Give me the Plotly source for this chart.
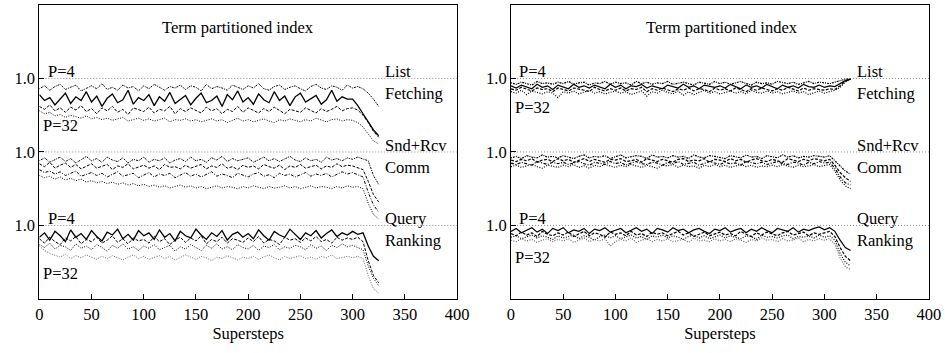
import plotly.graph_objects as go

# Supersteps sampled every 5 steps (0..325)
supersteps = list(range(0, 330, 5))

# ---- Left panel: values in percent of 1.0, series P=4, P=8, P=16, P=32 ----
left_fetch = [
    [86,90,84,89,92,85,88,91,83,87, 90,86,93,85,88,84,91,87,89,83, 90,86,92,88,84,89,87,91,85,90,
     88,83,92,86,89,87,84,91,88,85, 90,87,93,86,84,89,91,85,88,90, 86,83,89,92,87,85,90,88,84,91,
     87,89,86,80,72,62],
    [78,70,74,64,72,80,66,75,70,82, 68,76,62,73,79,67,71,84,65,74, 70,78,63,75,69,81,66,72,77,64,
     73,80,67,70,76,62,78,71,83,68, 74,65,79,71,67,82,70,76,63,75, 80,68,73,77,65,71,84,69,75,72,
     72,63,52,40,30,22],
    [62,58,64,56,60,54,61,57,63,55, 59,52,60,56,62,54,58,51,60,57, 55,61,53,58,56,62,52,59,55,60,
     57,53,61,56,59,52,58,55,62,54, 60,56,53,59,55,61,57,52,58,56, 54,60,57,53,59,55,58,62,56,59,
     60,57,50,40,28,20],
    [56,52,54,49,51,47,50,48,46,49, 45,47,44,46,43,45,47,42,44,46, 43,45,42,44,46,41,44,43,45,42,
     44,41,43,45,42,44,40,43,46,42, 44,41,43,45,42,40,44,42,45,43, 41,44,42,46,43,41,44,45,42,44,
     43,40,34,24,15,11],
]
left_comm = [
    [88,92,86,90,93,87,91,85,89,94, 88,91,86,93,89,87,92,85,90,88, 93,86,90,88,92,85,89,91,87,93,
     88,90,86,92,89,94,87,91,88,90, 92,86,89,93,88,91,87,90,94,89, 87,92,88,90,86,93,89,91,88,92,
     90,93,91,88,68,56],
    [84,80,86,78,82,85,79,83,77,81, 84,78,80,83,76,81,79,84,77,80, 82,78,81,76,83,79,80,77,82,78,
     80,83,77,81,79,84,78,80,76,82, 79,81,77,83,80,78,82,76,81,79, 83,78,80,82,77,81,79,84,80,82,
     81,79,76,60,42,32],
    [76,72,74,70,73,68,71,74,67,70, 72,68,71,66,70,73,67,69,71,65, 69,72,66,70,68,71,65,69,72,67,
     70,66,69,73,67,70,68,65,71,69, 66,70,72,67,69,65,71,68,70,66, 69,72,67,70,68,71,66,69,73,70,
     72,69,66,45,28,18],
    [68,65,67,63,66,62,64,61,63,59, 61,58,60,57,59,56,58,55,57,54, 56,53,55,52,54,51,53,55,52,54,
     51,53,50,52,54,51,53,52,50,53, 51,54,52,50,53,51,52,54,51,53, 50,52,54,51,53,52,50,53,51,54,
     52,53,50,30,15,9],
]
left_rank = [
    [84,90,80,92,86,78,94,84,89,81, 93,85,79,91,87,95,82,88,80,93, 86,90,81,94,84,89,79,92,86,83,
     95,87,81,90,85,93,80,88,91,84, 89,82,94,86,80,92,87,84,95,88, 81,90,86,93,83,89,94,85,90,87,
     92,88,90,72,58,52],
    [82,76,84,78,74,83,79,85,75,81, 78,84,76,80,86,77,82,75,83,79, 81,76,85,78,82,74,80,84,77,83,
     79,86,75,81,78,84,76,82,80,77, 83,78,85,76,81,79,74,84,80,82, 77,83,79,85,78,81,76,84,80,83,
     81,84,78,52,32,22],
    [74,70,76,68,73,71,66,75,69,72, 67,74,70,65,73,69,75,68,71,66, 72,69,74,67,70,73,65,71,68,74,
     70,66,73,69,75,68,71,67,74,70, 68,73,66,72,70,74,67,71,69,73, 71,67,74,69,72,66,73,70,75,71,
     73,70,67,45,28,18],
    [72,66,62,60,57,61,55,59,56,60, 57,54,58,55,59,56,53,57,60,55, 58,54,57,59,55,58,53,56,60,57,
     54,58,56,52,57,55,59,56,53,57, 55,58,54,57,60,56,53,58,55,57, 59,55,57,54,58,56,60,55,57,58,
     56,58,55,32,14,8],
]

# ---- Right panel ----
right_fetch = [
    [94,92,95,93,91,96,93,94,92,95, 93,96,92,94,95,91,94,93,96,92, 95,93,94,91,96,93,95,92,94,93,
     96,92,94,95,93,91,95,94,92,96, 93,95,92,94,96,93,91,95,93,94, 92,96,94,93,95,92,94,96,93,95,
     94,93,95,97,99,99],
    [90,87,91,89,86,92,88,90,85,91, 89,86,92,88,90,87,91,89,86,92, 88,91,86,90,89,92,87,90,88,86,
     91,89,87,92,88,90,86,91,89,88, 90,87,92,89,86,91,88,90,87,92, 89,86,91,88,90,87,92,89,88,91,
     88,90,89,93,97,99],
    [86,84,88,85,83,87,85,86,82,87, 85,83,87,86,84,82,88,85,83,86, 84,87,83,86,85,88,82,86,84,87,
     85,82,86,84,87,83,86,85,82,87, 84,86,83,87,85,82,86,84,87,85, 83,86,84,88,85,83,87,84,86,85,
     84,86,85,90,96,99],
    [82,80,84,78,83,81,79,82,80,74, 82,80,83,79,81,84,80,82,79,81, 83,80,82,78,81,83,76,82,80,84,
     81,79,83,77,82,78,81,84,80,82, 79,81,83,80,82,79,84,81,80,83, 80,82,79,81,83,80,82,78,81,83,
     80,82,84,88,95,99],
]
right_comm = [
    [92,94,91,95,93,92,96,93,94,92, 95,93,91,94,96,92,94,93,95,91, 94,96,92,93,95,94,91,96,93,94,
     92,95,93,94,91,96,93,92,95,94, 93,91,95,94,92,96,93,94,91,95, 94,92,96,93,95,92,94,93,95,94,
     93,95,88,80,74,70],
    [89,87,90,88,91,86,89,90,87,91, 88,90,86,89,91,87,90,88,86,90, 89,91,87,88,90,86,91,89,87,90,
     88,86,90,91,87,89,88,91,86,90, 89,87,91,88,90,86,89,91,88,87, 90,88,86,91,89,87,90,88,91,89,
     88,90,82,72,65,60],
    [85,83,86,84,82,87,85,83,86,84, 86,83,85,87,84,82,86,85,83,87, 84,86,82,85,87,84,83,86,85,82,
     86,84,87,83,85,86,82,84,87,85, 83,86,84,85,82,87,85,84,86,83, 85,87,84,83,86,85,82,86,84,87,
     85,86,78,66,58,55],
    [80,82,79,81,83,80,78,82,81,79, 82,80,83,79,81,78,82,80,83,81, 79,82,80,83,81,79,82,80,78,82,
     81,83,79,82,80,81,78,82,80,83, 80,82,79,81,83,80,82,79,81,80, 82,80,83,81,79,82,80,81,83,80,
     81,83,74,62,54,50],
]
right_rank = [
    [92,96,90,94,97,91,95,89,96,93, 97,90,94,92,96,89,95,93,97,91, 94,96,90,93,97,92,95,89,96,94,
     91,97,93,95,90,94,96,92,89,95, 93,97,91,94,96,90,95,92,97,93, 90,96,94,92,97,91,95,93,96,98,
     94,97,92,80,70,66],
    [89,86,91,87,90,85,92,88,86,90, 87,91,85,89,92,86,90,88,84,91, 88,90,86,92,87,89,85,91,88,90,
     86,89,92,87,90,85,88,91,86,89, 91,87,89,86,92,88,85,90,87,91, 88,86,90,92,87,89,91,86,90,88,
     90,92,85,70,58,52],
    [84,86,82,85,87,83,86,84,81,86, 83,85,87,82,86,84,80,85,87,83, 86,82,85,87,83,85,81,86,84,87,
     83,86,84,81,85,87,83,86,82,85, 87,83,86,84,82,86,85,81,87,84, 85,83,86,87,82,85,84,86,83,87,
     84,86,80,62,50,45],
    [80,78,82,79,81,77,80,82,78,81, 79,82,77,80,83,78,81,79,82,72, 78,81,79,83,77,80,82,78,81,79,
     82,78,80,81,77,83,79,80,78,82, 79,81,78,82,80,77,81,79,83,80, 81,78,82,79,80,83,78,81,79,82,
     80,82,74,56,44,40],
]

band_offsets = [2, 1, 0]          # List Fetching, Comm, Query Ranking
band_names = [("List", "Fetching"), ("Snd+Rcv", "Comm"), ("Query", "Ranking")]
proc_labels = ["P=4", "P=8", "P=16", "P=32"]
x_ticks = [0, 50, 100, 150, 200, 250, 300, 350, 400]
title_text = "Term partitioned index"

styles = [
    [("dot2", "black"), ("solid", "black"), ("dash", "black"), ("dot", "black")],
    [("dot2", "black"), ("dash", "black"), ("dashdot", "black"), ("dot", "black")],
    [("solid", "black"), ("dash", "black"), ("dot", "black"), ("dot", "#666666")],
]
dash_map = {"solid": "solid", "dot": "1px,1.5px", "dot2": "1px,1px,2px,1px",
            "dash": "3px,1.5px", "dashdot": "3px,1.5px,1px,1.5px"}

FONT = "Liberation Serif, Times New Roman, serif"
FS = 16.5
fig = go.Figure()

panels = [(left_fetch, left_comm, left_rank), (right_fetch, right_comm, right_rank)]
for pi, bands in enumerate(panels):
    xa = "x" if pi == 0 else "x2"
    ya = "y" if pi == 0 else "y2"
    for bi, band in enumerate(bands):
        off = band_offsets[bi]
        # reference 1.0 line
        fig.add_trace(go.Scatter(x=[0, 400], y=[off + 1, off + 1], mode="lines",
                                 line=dict(color="#888888", width=1, dash="1px,2px"),
                                 xaxis=xa, yaxis=ya, showlegend=False, hoverinfo="skip"))
        for si, vals in enumerate(band):
            dname, col = styles[bi][si]
            if pi == 0:
                w = 1.3 if dname == "solid" else 1.0
            else:
                w = 1.2
            fig.add_trace(go.Scatter(
                x=supersteps[:len(vals)], y=[off + v / 100 for v in vals], mode="lines",
                name=proc_labels[si],
                line=dict(color=col, width=w, dash=dash_map[dname]),
                xaxis=xa, yaxis=ya, showlegend=False))

ann = []
def add_text(xref, yref, x, y, text, anchor="left"):
    ann.append(dict(x=x, y=y, xref=xref, yref=yref, text=text, showarrow=False,
                    xanchor=anchor, yanchor="middle", font=dict(family=FONT, size=FS, color="black")))

for pi in range(2):
    xr = "x" if pi == 0 else "x2"
    yr = "y" if pi == 0 else "y2"
    add_text(xr, yr, 190 if pi == 0 else 202, 3.69, title_text, anchor="center")
    for bi, (a, b) in enumerate(band_names):
        off = band_offsets[bi]
        add_text(xr, yr, 329, off + 1.09, a)
        add_text(xr, yr, 329, off + 0.79, b)
    add_text(xr, yr, 6, 3.09, proc_labels[0])
    add_text(xr, yr, 2, 2.36 if pi == 0 else 2.61, proc_labels[3])
    add_text(xr, yr, 6, 1.10, proc_labels[0])
    add_text(xr, yr, 2, 0.34 if pi == 0 else 0.56, proc_labels[3])

axis_common = dict(showline=True, linecolor="black", linewidth=1, mirror=True,
                   showgrid=False, zeroline=False, ticks="inside", ticklen=5,
                   tickcolor="black", automargin=False,
                   tickfont=dict(family=FONT, size=FS, color="black"))

fig.update_layout(
    width=945, height=353, margin=dict(l=0, r=0, t=0, b=0),
    paper_bgcolor="white", plot_bgcolor="white", annotations=ann,
    xaxis=dict(domain=[0.0416, 0.4836], range=[0, 400], tickvals=x_ticks,
               title=dict(text="Supersteps", font=dict(family=FONT, size=FS, color="black"), standoff=4),
               anchor="y", **axis_common),
    xaxis2=dict(domain=[0.5407, 0.983], range=[0, 400], tickvals=x_ticks,
                title=dict(text="Supersteps", font=dict(family=FONT, size=FS, color="black"), standoff=4),
                anchor="y2", **axis_common),
    yaxis=dict(domain=[0.153, 0.986], range=[0, 4], tickvals=[1, 2, 3],
               ticktext=["1.0", "1.0", "1.0"], anchor="x", **axis_common),
    yaxis2=dict(domain=[0.153, 0.986], range=[0, 4], tickvals=[1, 2, 3],
                ticktext=["1.0", "1.0", "1.0"], anchor="x2", **axis_common),
)

fig.write_html("out.html", config={"displayModeBar": False},
               post_script="document.body.style.margin='0';document.body.style.overflow='hidden';")
